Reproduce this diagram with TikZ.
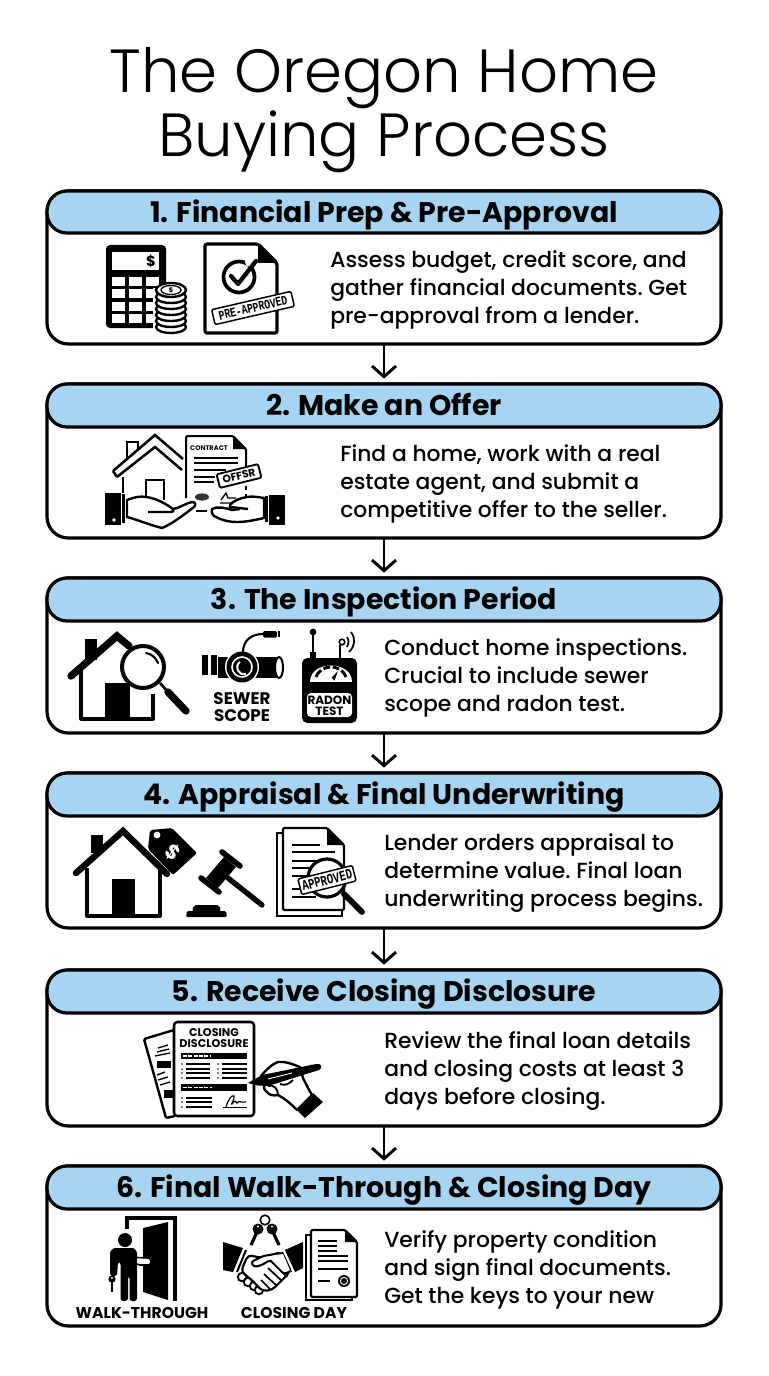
\documentclass[tikz,border=0pt]{standalone}
\usepackage{fontspec}
\setmainfont{Poppins}
\newfontfamily\titlefont[UprightFont=* Light]{Poppins}
\newfontfamily\bodyfont[UprightFont=* Medium]{Poppins}
\newfontfamily\stampfont{Liberation Mono}
\usetikzlibrary{arrows.meta}
\definecolor{headblue}{HTML}{A7D4F1}
\tikzset{
  cardbox/.style={draw=black,line width=2.4pt,fill=white,rounded corners=16pt,inner sep=0,outer sep=0,minimum width=505.5pt},
  cardhead/.style={draw=black,line width=2.4pt,fill=headblue,rounded corners=15pt,inner sep=0,outer sep=0,minimum width=505.5pt,font=\bfseries\fontsize{21.3}{24}\selectfont,text height=18pt,text depth=2.5pt},
  bodytext/.style={anchor=west,align=left,inner sep=0,font=\frenchspacing\bodyfont\fontsize{16.4}{21}\selectfont},
  titletext/.style={inner sep=0,font=\titlefont\fontsize{45.7}{46.5}\selectfont,align=center},
  flowarrow/.style={draw=black,line width=2.2pt,-{Straight Barb[length=8pt,width=18pt,line width=2.2pt]},shorten >=4pt},
  ink/.style={fill=black,draw=none},
  line1/.style={draw=black,line width=1pt},
  line2/.style={draw=black,line width=1.8pt},
  line3/.style={draw=black,line width=2.4pt,line join=round},
  iconlabel/.style={inner sep=0,font=\bfseries\fontsize{10}{12}\selectfont,align=center},
  stampbox/.style={draw=black,line width=1.1pt,fill=white,rounded corners=1pt,inner sep=0},
}
\newcommand{\flowcard}[5]{% n top bottom headbottom title
  \node[cardbox,minimum height={(#3-#2)*.75pt}] (card#1) at (384,{(#2+#3)/2}) {};
  \node[cardhead,minimum height={(#4-#2)*.75pt}] (head#1) at (384,{(#2+#4)/2}) {#5};
}
\begin{document}
\begin{tikzpicture}[x=.75pt,y=-.75pt]
\useasboundingbox (0,0) rectangle (768,1376);
\fill[white] (0,0) rectangle (768,1376);
\node[titletext] (title) at (384,110) {The Oregon Home\\Buying Process};
\flowcard{1}{191}{344}{233}{1. Financial Prep \& Pre-Approval}
\flowcard{2}{384}{538}{427}{2. Make an Offer}
\flowcard{3}{578}{733}{621}{3. The Inspection Period}
\flowcard{4}{773}{928}{816}{4. Appraisal \& Final Underwriting}
\flowcard{5}{970}{1126}{1013}{5. Receive Closing Disclosure}
\flowcard{6}{1166}{1326}{1209}{6. Final Walk-Through \& Closing Day}
\foreach \a/\b in {1/2,2/3,3/4,4/5,5/6}{\draw[flowarrow] (card\a.south) -- (head\b.north);}
\node[bodytext] (text1) at (330,290) {Assess budget, credit score, and\\gather financial documents. Get\\pre-approval from a lender.};
\node[bodytext] (text2) at (340,484) {Find a home, work with a real\\estate agent, and submit a\\competitive offer to the seller.};
\node[bodytext] (text3) at (384,678) {Conduct home inspections.\\Crucial to include sewer\\scope and radon test.};
\node[bodytext] (text4) at (384,873) {Lender orders appraisal to\\determine value. Final loan\\underwriting process begins.};
\node[bodytext] (text5) at (384,1071) {Review the final loan details\\and closing costs at least 3\\days before closing.};
\node[bodytext] (text6) at (384,1270) {Verify property condition\\and sign final documents.\\Get the keys to your new};

%% ---- icon 1: calculator
\fill[ink,rounded corners=3pt] (106,245) rectangle (166,328);
\fill[white] (112,252) rectangle (159,270);
\node[iconlabel,font=\bfseries\fontsize{11}{12}\selectfont] (calcdollar) at (151,261) {\$};
\foreach \y in {277,289,302,314}{\foreach \x in {112,129,146}{\fill[white] (\x,\y) rectangle +(13,9);}}
% coins
\fill[white] (153,288) rectangle (189,335);
\foreach \y in {327,321,315,309,303,297}{\draw[line2,fill=white] (171,\y) ellipse[x radius=15,y radius=6];}
\draw[line2,fill=white] (171,290) ellipse[x radius=15,y radius=7];
\draw[line1] (171,290) ellipse[x radius=10,y radius=4.5];
\node[iconlabel,font=\bfseries\fontsize{5}{6}\selectfont] (coindollar) at (171,290) {\$};
% pre-approved document
\draw[line3,rounded corners=1.5pt] (205,244) -- (258,244) -- (277,263) -- (277,333) -- (205,333) -- cycle;
\fill[ink] (258,244) -- (277,263) -- (258,263) -- cycle;
\draw[draw=black,line width=2.8pt] (239,277) circle[radius=15.5];
\fill[white] (250,262) circle[radius=5];
\draw[draw=black,line width=3.2pt,line cap=round,line join=round] (231,276) -- (238,284) -- (256,261);
\node[stampbox,rotate=13,minimum width=61pt,minimum height=11.5pt] (stamp1) at (253,308) {\stampfont\bfseries\fontsize{7.3}{8}\selectfont\scalebox{1}[1.35]{PRE-APPROVED}};

%% ---- icon 2: house, contract, hands
\draw[draw=black,line width=1.9pt,line join=miter] (113,471) -- (155,435) -- (183,459) (117,477) -- (155,447) -- (182,470) (113,471) -- (117,477);
\draw[draw=black,line width=1.9pt] (127,460) -- (127,442) -- (138,442) -- (138,451);
\draw[draw=black,line width=1.9pt] (123,477) -- (123,493);
\draw[draw=black,line width=1.9pt] (146,500) -- (146,480) -- (164,480) -- (164,500);
\draw[draw=black,line width=1.5pt,rounded corners=1pt] (186,498) -- (186,436) -- (233,436) -- (246,449) -- (246,472);
\fill[ink] (233,436) -- (246,449) -- (233,449) -- cycle;
\draw[draw=black,line width=1.5pt,dashed] (246,486) -- (246,497);
\node[iconlabel,font=\bfseries\fontsize{5}{6}\selectfont] (contract) at (209,448) {CONTRACT};
\foreach \y/\x in {458/238,463/238,470/226,477/215,482/214}{\draw[draw=black,line width=1.2pt] (194,\y) -- (\x,\y);}
\node[stampbox,rotate=14,line width=1.4pt,minimum width=32pt,minimum height=10.5pt] (offer) at (239,476) {\bfseries\fontsize{8}{9}\selectfont OFFSR};
\fill[black!80] (202,497) ellipse[x radius=7,y radius=3.6];
\draw[draw=black,line width=1.4pt] (196,511) -- (207,511);
\draw[line1] (221,500) -- (226,493) -- (228,498) -- (236,498) (220,503) -- (232,503);
% left hand
\fill[ink] (105,493) rectangle (121,525);
\fill[white] (114,520) circle[radius=1.8];
\draw[line2] (123.5,494) -- (123.5,523);
\draw[line2,fill=white,line join=round] (127,500) .. controls (135,497) and (140,496) .. (146,497) .. controls (155,498) and (165,503) .. (173,509) .. controls (180,508) and (186,503) .. (192,502) .. controls (196,502) and (196,505) .. (194,507) .. controls (185,514) and (172,524) .. (162,528) .. controls (150,525) and (138,520) .. (127,517) -- cycle;
\draw[line2] (173,509) .. controls (174,511) and (173,512) .. (171,512) -- (148,512);
% right hand
\fill[ink] (269,495) rectangle (285,525);
\fill[white] (278,518) circle[radius=1.8];
\draw[line2] (266.5,496) -- (266.5,522);
\draw[line2,fill=white,line join=round] (264,498) .. controls (258,497) and (252,496) .. (247,497) .. controls (240,498) and (233,501) .. (230,505) .. controls (229,507) and (230,509) .. (232,510) .. controls (226,508) and (217,506) .. (212,509) .. controls (211,513) and (213,516) .. (216,517) .. controls (224,521) and (230,522) .. (237,522) .. controls (246,522) and (255,520) .. (264,518) -- cycle;
\draw[line2] (230,507) -- (248,509);
\draw[line2] (232,510) -- (240,509);

%% ---- icon 3: house + magnifier
\draw[draw=black,line width=5.5pt,line cap=round,line join=miter] (71,676) -- (117,636) -- (129,646);
\fill[ink] (85,639) rectangle (97,660);
\draw[line3] (81,671) -- (81,719) -- (153,719) -- (153,694);
\fill[ink] (105,683) rectangle (130,719);
\fill[white] (143,667) circle[radius=22];
\draw[draw=black,line width=3pt] (143,667) circle[radius=21];
\draw[line2,line width=1.6pt,line cap=round] (146,653) .. controls (152,654) and (156,658) .. (158,663);
\draw[draw=black,line width=2pt] (160,683) -- (168,692);
\draw[draw=black,line width=5.5pt,line cap=round] (168,692) -- (186,711);
% sewer scope
\fill[ink] (202,655) rectangle (208,675);
\fill[ink] (211,655) rectangle (217,675);
\fill[ink] (218,657) rectangle (279,678);
\draw[line2,line width=1.5pt,fill=white] (279,667.5) ellipse[x radius=4,y radius=10.5];
\fill[white] (242,667) circle[radius=17];
\fill[ink] (242,667) circle[radius=15.5];
\draw[white,line width=1.2pt] (242,667) circle[radius=10];
\draw[white,line width=1.5pt] (246,674) .. controls (238,676) and (234,666) .. (240,662);
\draw[draw=black,line width=1.6pt] (243,652) .. controls (243,640) and (252,634) .. (263,634);
\fill[ink,rounded corners=1pt] (263,631) rectangle (277,637.5);
\fill[white] (277,632) rectangle (278.5,636.5);
\draw[line1] (278.5,631.5) rectangle (279.5,636.5);
\node[iconlabel,font=\bfseries\fontsize{12.6}{14}\selectfont] (sewer) at (242,699) {SEWER};
\node[iconlabel,font=\bfseries\fontsize{12.6}{14}\selectfont] (scope) at (242,715.5) {SCOPE};
% radon
\draw[draw=black,line width=2.2pt] (313,632) -- (313,657);
\fill[ink] (313,632) circle[radius=3.4];
\fill[ink] (310,652) rectangle (316,658);
\draw[draw=black,line width=1.2pt] (340,645) -- (340,658);
\draw[draw=black,line width=1.2pt] (342,642) circle[radius=2.8];
\draw[draw=black,line width=1.3pt] (347,637) .. controls (349,640) and (349,643) .. (347,647);
\draw[draw=black,line width=1.3pt] (351,632) .. controls (356,639) and (355,646) .. (349,652);
\fill[ink,rounded corners=4pt] (302,658) rectangle (357,723);
\fill[white,rounded corners=3pt] (307,693) rectangle (352,717);
\fill[white] (310,682) .. controls (310,660) and (352,660) .. (352,682) -- cycle;
\foreach \a/\b in {160/128,118/93,84/60,50/20}{\draw[draw=black,line width=2.2pt] ({331+16*cos(\a)},{682-15*sin(\a)}) -- ({331+16*cos((\a+\b)/2)},{682-15*sin((\a+\b)/2)}) -- ({331+16*cos(\b)},{682-15*sin(\b)});}
\fill[ink] (331.5,677.5) -- (338,671) -- (334.5,680.5) -- cycle;
\node[iconlabel,font=\bfseries\fontsize{9}{10}\selectfont] (radon) at (329.5,700) {RADON};
\node[iconlabel,font=\bfseries\fontsize{9}{10}\selectfont] (test) at (329.5,711) {TEST};

%% ---- icon 4: house + tag
\draw[draw=black,line width=4.8pt,line cap=round,line join=miter] (76,873) -- (123,831) -- (167,874);
\fill[ink] (91,835) rectangle (103,853);
\draw[line3] (87,868) -- (87,916) -- (160,916) -- (160,870);
\fill[ink] (112,879) rectangle (135,916);
\fill[ink,rounded corners=1.5pt] (150,830) -- (172,828) -- (197,853) -- (173,875) -- (148,849) -- cycle;
\fill[white] (157,835) circle[radius=3.4];
\node[iconlabel,text=white,rotate=-40,font=\bfseries\fontsize{15}{16}\selectfont] (tagdollar) at (173,852) {\$};
% gavel
\draw[draw=black,line width=4.2pt,line cap=round] (222,852) -- (240,866);
\draw[draw=black,line width=4.2pt,line cap=round] (201,878) -- (219,892);
\fill[ink] (224,857) -- (236,867) -- (218,888) -- (206,878) -- cycle;
\draw[draw=black,line width=4pt,line cap=round] (228,878) -- (262,905);
\fill[ink,rounded corners=1.5pt] (192,911) -- (194,905) -- (219,905) -- (221,911) -- cycle;
\fill[ink,rounded corners=1pt] (186,917) -- (187,911) -- (226,911) -- (227,917) -- cycle;
% approved papers
\draw[draw=black,line width=1.4pt] (283,833) -- (277,833) -- (277,916) -- (342,916) -- (342,910);
\draw[draw=black,line width=1.7pt,line join=round,fill=white,rounded corners=1pt] (283,828) -- (327,828) -- (344,845) -- (344,910) -- (283,910) -- cycle;
\fill[ink] (327,828) -- (344,845) -- (327,845) -- cycle;
\foreach \y/\x in {845/320,852/335,861/335,868/325,876/310,889/300,897/316}{\draw[draw=black,line width=1.2pt] (292,\y) -- (\x,\y);}
\fill[white] (327,878) circle[radius=20];
\draw[draw=black,line width=2.4pt] (327,878) circle[radius=19];
\draw[draw=black,line width=4.4pt,line cap=round] (344,894) -- (362,912);
\node[stampbox,rotate=14,minimum width=42pt,minimum height=12pt] (stamp4) at (327,880) {\stampfont\bfseries\fontsize{8}{9}\selectfont\scalebox{1}[1.35]{APPROVED}};

%% ---- icon 5: closing disclosure
\fill[white] (143,1039) -- (174,1029) -- (190,1116) -- (166,1118) -- cycle;
\draw[line2,rounded corners=1pt] (174,1030) -- (144,1039) -- (166,1118) -- (175,1116);
\foreach \a/\b/\w in {158/1048/10,157/1052/12,155/1056/15,157/1075/8,158/1080/10,160/1085/10}{\draw[line1] (\a,\b) -- ++(\w,-3);}
\fill[ink] (157,1061) rectangle (171,1068);
\fill[ink] (164,1090) rectangle (174,1098);
\draw[line3,line width=1.9pt,fill=white,rounded corners=2.5pt] (174,1022) rectangle (254,1116);
\node[iconlabel,font=\bfseries\fontsize{8.4}{10}\selectfont] (closing) at (214,1033) {CLOSING};
\node[iconlabel,font=\bfseries\fontsize{8.4}{10}\selectfont] (disclosure) at (214,1044) {DISCLOSURE};
\fill[ink] (181,1053) rectangle (247,1059);
\draw[white,line width=1pt,dash pattern=on 3pt off 1pt] (183,1056) -- (210,1056);
\foreach \y in {1064,1069,1073,1078}{
  \fill[ink] (182,\y) circle[radius=.8]; \draw[line1] (186,\y) -- (210,\y);
  \fill[ink] (218,\y) circle[radius=.8]; \draw[line1] (222,\y) -- (247,\y);}
\fill[ink] (181,1084) rectangle (247,1091);
\draw[white,line width=1pt,dash pattern=on 3pt off 1pt] (183,1087.5) -- (212,1087.5);
\foreach \y in {1098,1102,1107}{\fill[ink] (182,\y) circle[radius=.8]; \draw[line1] (186,\y) -- (212,\y);}
\draw[line1,line width=.9pt] (226,1107) .. controls (228,1100) and (232,1094) .. (234,1096) .. controls (235,1099) and (230,1106) .. (232,1104) .. controls (235,1100) and (236,1101) .. (237,1103) .. controls (239,1100) and (241,1103) .. (246,1102);
\draw[line1] (223,1107.5) -- (247,1107.5);
% hand + pen
\draw[draw=black,line width=1.8pt,fill=white,line join=round] (261,1076) .. controls (266,1070) and (272,1064) .. (278,1062) .. controls (285,1061) and (292,1064) .. (300,1067) -- (303,1078) .. controls (306,1084) and (309,1090) .. (312,1095) -- (297,1110) .. controls (290,1103) and (284,1098) .. (278,1095) .. controls (273,1096) and (269,1095) .. (267,1092) .. controls (264,1090) and (263,1087) .. (265,1084) -- cycle;
\fill[ink] (297,1110) -- (313,1093) -- (323,1102) -- (305,1118) -- cycle;
\fill[ink] (248,1083) -- (262,1075) -- (316,1064) .. controls (322,1063) and (323,1068) .. (319,1070) -- (268,1086) -- (258,1085.5) -- cycle;
\draw[white,line width=.7pt] (268,1079) -- (292,1073);
\draw[line2,line width=1.4pt] (268,1086) .. controls (274,1084) and (278,1089) .. (278,1095);
\draw[line2,line width=1.4pt] (280,1084) .. controls (285,1086) and (289,1084) .. (293,1080);

%% ---- icon 6: walk-through
\draw[draw=black,line width=2.6pt,line join=miter] (127,1229) -- (127,1218) -- (175,1218) -- (175,1301);
\fill[ink] (143,1228) -- (168,1222) -- (168,1300) -- (143,1292) -- cycle;
\fill[ink] (125,1240) circle[radius=7];
\fill[ink,rounded corners=2pt] (110,1276) -- (110,1256) .. controls (110,1251) and (113,1248) .. (118,1248) -- (130,1248) .. controls (134,1248) and (137,1251) .. (137,1256) -- (137,1301) -- (129.5,1301) -- (129.5,1276) -- (128,1276) -- (128,1301) -- (120.5,1301) -- (120.5,1262) -- (118,1262) -- (117,1276) -- cycle;
\draw[draw=black,line width=1.2pt,fill=white,line join=round] (137,1257.5) -- (148,1258) .. controls (152,1258) and (152,1265) .. (148,1265) -- (140,1265) -- (137,1264);
\fill[ink] (112,1279) circle[radius=3.6];
\fill[white] (112,1278) circle[radius=1.1];
\draw[draw=black,line width=1.7pt] (112,1281) -- (112,1292);
\node[iconlabel,font=\bfseries\fontsize{11.7}{13}\selectfont] (walk) at (142,1313) {WALK-THROUGH};
% keys
\draw[draw=black,line width=1.2pt] (265,1220) circle[radius=4.8];
\fill[ink] (258,1229) circle[radius=5.5];
\fill[white] (258,1226.5) circle[radius=1.2];
\fill[ink] (272,1229) circle[radius=5.5];
\fill[white] (272,1226.5) circle[radius=1.2];
\draw[draw=black,line width=2.4pt] (257,1232) -- (251,1245);
\draw[draw=black,line width=2.4pt] (273,1232) -- (279,1245);
% handshake
\fill[ink] (223,1242) -- (243,1248) -- (233,1272) -- (223,1270) -- cycle;
\fill[ink] (303,1242) -- (285,1250) -- (295,1272) -- (303,1268) -- cycle;
\draw[draw=black,line width=1.5pt] (246,1250) -- (237,1272);
\draw[draw=black,line width=1.5pt] (282,1252) -- (291,1272);
\foreach \x/\y in {242/1277,248/1282,254/1286,259/1290}{\draw[draw=black,line width=1.4pt,fill=white] (\x,\y) circle[radius=4.2];}
\draw[draw=black,line width=1.6pt,fill=white,rounded corners=3pt] (248,1255) -- (262,1258) -- (281,1252) -- (290,1272) -- (272,1290) -- (262,1291) -- (254,1282) -- (241,1271) -- cycle;
\draw[draw=black,line width=1.5pt,fill=white,rounded corners=2pt] (282,1253) -- (263,1256) -- (251,1262) -- (254,1267) -- (262,1265) -- (270,1260) -- (284,1274) -- (291,1271) -- cycle;
\fill[white] (283,1254) -- (290,1270) -- (284,1272) -- (272,1262) -- (272,1256) -- cycle;
\draw[draw=black,line width=1.3pt] (270,1260) -- (287,1277) (268,1268) -- (282,1281) (264,1274) -- (277,1286) (261,1280) -- (270,1289);
% final documents
\draw[draw=black,line width=1.4pt] (311,1235) -- (306,1235) -- (306,1300) -- (352,1300) -- (352,1297);
\draw[draw=black,line width=1.7pt,line join=round,fill=white,rounded corners=1pt] (311,1230) -- (345,1230) -- (357,1242) -- (357,1297) -- (311,1297) -- cycle;
\fill[ink] (345,1230) -- (357,1242) -- (345,1242) -- cycle;
\foreach \y/\x in {1241/337,1246/337,1251/337,1256/348,1261/348,1269/348}{\draw[draw=black,line width=1.2pt] (318,\y) -- (\x,\y);}
\draw[draw=black,line width=1.2pt] (318,1281) -- (330,1281);
\fill[ink] (344,1281) circle[radius=6];
\draw[white,line width=.7pt] (344,1281) circle[radius=3.6];
\node[iconlabel,font=\bfseries\fontsize{11.7}{13}\selectfont] (closeday) at (294,1313) {CLOSING DAY};
\end{tikzpicture}
\end{document}
